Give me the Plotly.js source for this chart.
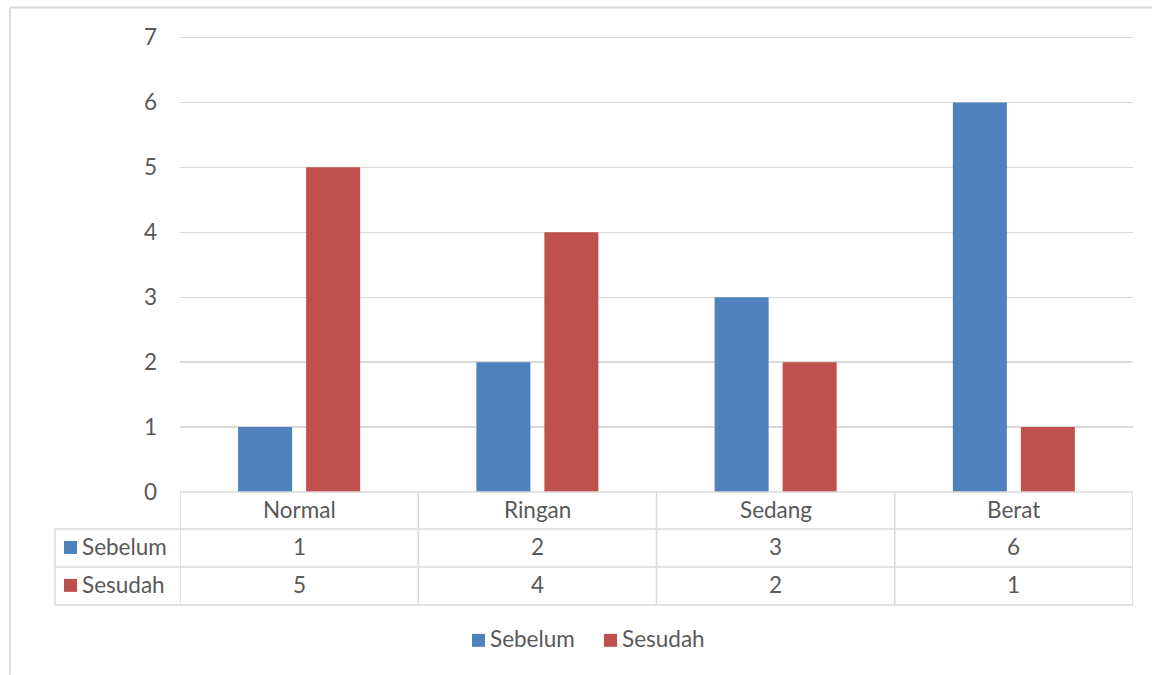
<!DOCTYPE html>
<html>
<head>
<meta charset="utf-8">
<script src="https://cdn.plot.ly/plotly-3.0.1.min.js"></script>
<style>html,body{margin:0;padding:0;background:#fff;}#chart{width:1152px;height:675px;}</style>
</head>
<body>
<div id="chart"></div>
<script>
// ---- data ----
const categories = ["Normal", "Ringan", "Sedang", "Berat"];
const seriesNames = ["Sebelum", "Sesudah"];
const sebelum = [1, 2, 3, 6];
const sesudah = [5, 4, 2, 1];
const yTicks = [0, 1, 2, 3, 4, 5, 6, 7];

// ---- style ----
const colors = ["#4F81BD", "#C0504D"];
const textColor = "#595959";
const lineColor = "#D9D9D9";
const fontFamily = "Lato, 'Open Sans', sans-serif";
const fs = 22.5;

// plot area in pixels (top extended a little so the gridline at 7 is drawn)
const W = 1152, H = 675;
const yTop = 7.1;
const L = 180, R = 1133, B = 492, T = 37 - (yTop - 7) * 65;
const pw = R - L, ph = B - T;
const px = v => (v - L) / pw;
const py = v => (B - v) / ph;

const seriesValues = [sebelum, sesudah];
const traces = seriesNames.map((n, i) => ({
  type: "bar",
  name: n,
  x: categories,
  y: seriesValues[i],
  marker: {color: colors[i]},
  hoverinfo: "skip",
  showlegend: false
}));

// table geometry (pixel rows)
const rowTops = [492, 529, 567, 605];
const tableLeft = 55;
const shapes = [];
const annotations = [];
const n = categories.length;
const lw = 1.5;

// horizontal lines
shapes.push({type: "line", xref: "paper", yref: "paper", x0: 0, x1: 1, y0: py(rowTops[0]), y1: py(rowTops[0]), line: {color: lineColor, width: lw}});
for (let r = 1; r < rowTops.length; r++) {
  shapes.push({type: "line", xref: "paper", yref: "paper", x0: px(tableLeft), x1: 1, y0: py(rowTops[r]), y1: py(rowTops[r]), line: {color: lineColor, width: lw}});
}
// vertical lines
shapes.push({type: "line", xref: "paper", yref: "paper", x0: px(tableLeft), x1: px(tableLeft), y0: py(rowTops[1]), y1: py(rowTops[3]), line: {color: lineColor, width: lw}});
for (let c = 0; c <= n; c++) {
  shapes.push({type: "line", xref: "x", yref: "paper", x0: c - 0.5, x1: c - 0.5, y0: py(rowTops[0]), y1: py(rowTops[3]), line: {color: lineColor, width: lw}});
}
// header category labels
categories.forEach((cat, c) => {
  annotations.push({xref: "x", yref: "paper", x: c, y: py((rowTops[0] + rowTops[1]) / 2 - 1), text: cat, showarrow: false,
    xanchor: "center", yanchor: "middle", font: {family: fontFamily, size: fs, color: textColor}});
});
// data rows
seriesNames.forEach((name, i) => {
  const yc = (rowTops[i + 1] + rowTops[i + 2]) / 2;
  shapes.push({type: "rect", xref: "paper", yref: "paper", x0: px(64), x1: px(77), y0: py(yc - 7), y1: py(yc + 6),
    fillcolor: colors[i], line: {width: 0}});
  annotations.push({xref: "paper", yref: "paper", x: px(80), y: py(yc - 1), text: name, showarrow: false,
    xanchor: "left", yanchor: "middle", font: {family: fontFamily, size: fs, color: textColor}});
  seriesValues[i].forEach((v, c) => {
    annotations.push({xref: "x", yref: "paper", x: c, y: py(yc - 1), text: String(v), showarrow: false,
      xanchor: "center", yanchor: "middle", font: {family: fontFamily, size: fs, color: textColor}});
  });
});
// legend (drawn below the table)
const legendKeyX = [472, 604];
const legendY = 640;
seriesNames.forEach((name, i) => {
  shapes.push({type: "rect", xref: "paper", yref: "paper", x0: px(legendKeyX[i]), x1: px(legendKeyX[i] + 13),
    y0: py(legendY + 7), y1: py(legendY - 6), fillcolor: colors[i], line: {width: 0}});
  annotations.push({xref: "paper", yref: "paper", x: px(legendKeyX[i] + 16), y: py(legendY - 1), text: name, showarrow: false,
    xanchor: "left", yanchor: "middle", font: {family: fontFamily, size: fs, color: textColor}});
});
// outer chart border (top and left visible)
shapes.push({type: "line", xref: "paper", yref: "paper", x0: px(10), x1: px(W), y0: py(7), y1: py(7), line: {color: lineColor, width: 2}});
shapes.push({type: "line", xref: "paper", yref: "paper", x0: px(10), x1: px(10), y0: py(7), y1: py(H), line: {color: lineColor, width: 2}});

const layout = {
  width: W, height: H,
  margin: {l: L, r: W - R, t: T, b: H - B, pad: 0},
  paper_bgcolor: "#fff", plot_bgcolor: "#fff",
  barmode: "group",
  bargap: 0.429,
  bargroupgap: 0.206,
  font: {family: fontFamily, size: fs, color: textColor},
  xaxis: {type: "category", range: [-0.5, n - 0.5], showticklabels: false, showgrid: false, zeroline: false, showline: false, ticks: "", fixedrange: true},
  yaxis: {range: [0, yTop], tickvals: yTicks, ticktext: yTicks.map(String), showgrid: true, gridcolor: lineColor, gridwidth: 1.3,
    zeroline: false, showline: false, ticks: "", ticklabelstandoff: 22, tickfont: {family: fontFamily, size: fs, color: textColor}, fixedrange: true},
  showlegend: false,
  shapes: shapes,
  annotations: annotations
};

Plotly.newPlot("chart", traces, layout, {displayModeBar: false, staticPlot: true});
</script>
</body>
</html>
